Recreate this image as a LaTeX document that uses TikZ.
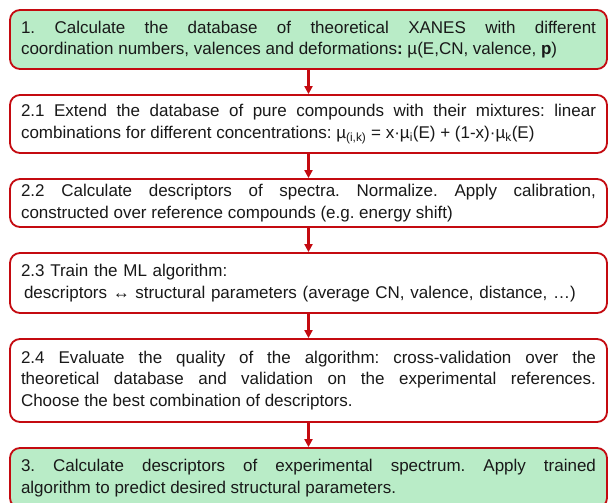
\documentclass[tikz,border=0pt]{standalone}
\usepackage{fontspec}
\setmainfont{Liberation Sans}
\usetikzlibrary{arrows.meta}
\hyphenpenalty=10000\relax
\frenchspacing
\definecolor{boxred}{RGB}{196,10,16}
\definecolor{boxgreen}{RGB}{185,236,199}
\definecolor{txt}{RGB}{25,25,25}
\tikzset{
  flowbox/.style={draw=boxred, line width=1.8pt, rounded corners=10pt,
    text width=575pt, inner xsep=11pt, inner ysep=4pt, align=justify,
    text=txt, font=\fontsize{17}{21.5}\selectfont},
  greenbox/.style={flowbox, fill=boxgreen},
  whitebox/.style={flowbox, fill=white},
  flowarrow/.style={draw=boxred, line width=2.2pt, -{Triangle[length=8pt,width=8pt]}}
}
\begin{document}
\begin{tikzpicture}[x=1pt,y=-1pt]
\clip (0,0) rectangle (608,503);
\fill[white] (0,0) rectangle (608,503);
\node[greenbox, minimum height=59pt] (b1) at (308.5,39.5)
  {1. Calculate the database of theoretical XANES with different\linebreak coordination numbers, valences and deformations\textbf{:} µ(E,CN, valence, \textbf{p})};
\node[whitebox, minimum height=58pt] (b2) at (308.5,124)
  {2.1 Extend the database of pure compounds with their mixtures: linear\linebreak combinations for different concentrations: µ\textsubscript{(i,k)} = x·µ\textsubscript{i}(E) + (1-x)·µ\textsubscript{k}(E)};
\node[whitebox, minimum height=48pt] (b3) at (308.5,203)
  {2.2 Calculate descriptors of spectra. Normalize. Apply calibration,\linebreak constructed over reference compounds (e.g. energy shift)};
\node[whitebox, minimum height=60pt, align=left] (b4) at (308.5,283)
  {2.3 Train the ML algorithm:\\ {\hskip3pt}descriptors ↔ structural parameters (average CN, valence, distance, …)};
\node[whitebox, minimum height=83pt] (b5) at (308.5,380.5)
  {2.4 Evaluate the quality of the algorithm: cross-validation over the\linebreak theoretical database and validation on the experimental references.\linebreak Choose the best combination of descriptors.};
\node[greenbox, minimum height=60pt] (b6) at (308.5,478)
  {3. Calculate descriptors of experimental spectrum. Apply trained\linebreak algorithm to predict desired structural parameters.};
\draw[flowarrow] (b1.south) -- (b2.north);
\draw[flowarrow] (b2.south) -- (b3.north);
\draw[flowarrow] (b3.south) -- (b4.north);
\draw[flowarrow] (b4.south) -- (b5.north);
\draw[flowarrow] (b5.south) -- (b6.north);
\end{tikzpicture}
\end{document}
